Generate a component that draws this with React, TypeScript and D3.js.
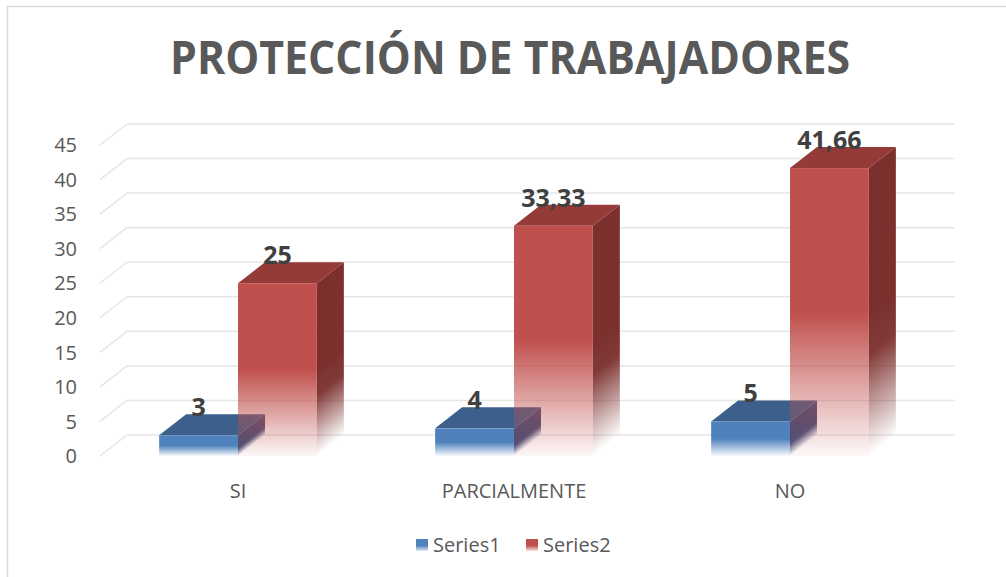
import React from "react";
import * as d3 from "d3";

const categories = ["SI", "PARCIALMENTE", "NO"];
const series1 = [3, 4, 5];
const series2 = [25, 33.33, 41.66];
const seriesNames = ["Series1", "Series2"];
const yTicks = [0, 5, 10, 15, 20, 25, 30, 35, 40, 45];
const title = "PROTECCIÓN DE TRABAJADORES";

const W = 1006;
const H = 577;
const DX = 27;
const DY = -21;

const palette = [
  { front: "#4f81bd", top: "#3c5f8c", side: "#3f4d78" },
  { front: "#c0504d", top: "#943b38", side: "#7b302e" },
];

const fmt = (v: number) => String(v).replace(".", ",");

export default function App() {
  const x = d3.scaleBand<string>().domain(categories).range([100, 928]).padding(0);
  const y = d3.scaleLinear().domain([0, 45]).range([456, 145]);
  const x0 = 100;
  const x1 = 928;
  const bw = x.bandwidth() / 3.5;
  const seriesData = [series1, series2];
  const y0 = y(0);

  const bars: React.ReactNode[] = [];
  const defs: React.ReactNode[] = [];
  const labels: React.ReactNode[] = [];

  categories.forEach((cat, ci) => {
    const c = (x(cat) as number) + x.bandwidth() / 2;
    seriesData.forEach((data, si) => {
      const v = data[ci];
      const left = c - bw + si * bw;
      const right = left + bw;
      const yt = y(v);
      const col = palette[si];
      const gid = `gf-${si}-${ci}`;
      const sid = `gs-${si}-${ci}`;
      const ymid = yt + (y0 - yt) * 0.5;
      // side gradient: iso-lines parallel to the depth direction (DX, DY)
      const len2 = DX * DX + DY * DY;
      const t = ((y0 - ymid) * DX) / len2;
      const gx1 = right;
      const gy1 = ymid;
      const gx2 = right + t * -DY;
      const gy2 = ymid + t * DX;
      defs.push(
        <linearGradient key={gid} id={gid} x1="0" y1={yt} x2="0" y2={y0} gradientUnits="userSpaceOnUse">
          <stop offset="0" stopColor={col.front} stopOpacity={1} />
          <stop offset="0.5" stopColor={col.front} stopOpacity={1} />
          <stop offset="1" stopColor={col.front} stopOpacity={0.04} />
        </linearGradient>
      );
      defs.push(
        <linearGradient key={sid} id={sid} x1={gx1} y1={gy1} x2={gx2} y2={gy2} gradientUnits="userSpaceOnUse">
          <stop offset="0" stopColor={col.side} stopOpacity={1} />
          <stop offset="0.3" stopColor={col.side} stopOpacity={0.95} />
          <stop offset="1" stopColor={col.side} stopOpacity={0.0} />
        </linearGradient>
      );
      const side = [
        [right, yt],
        [right + DX, yt + DY],
        [right + DX, y0 + DY],
        [right, y0],
      ];
      const topF = [
        [left, yt],
        [right, yt],
        [right + DX, yt + DY],
        [left + DX, yt + DY],
      ];
      const pts = (p: number[][]) => p.map((q) => q.join(",")).join(" ");
      bars.push(
        <g key={`b-${si}-${ci}`}>
          <polygon points={pts(side)} fill={`url(#${sid})`} />
          <polygon points={pts(topF)} fill={col.top} />
          <rect x={left} y={yt} width={bw} height={y0 - yt} fill={`url(#${gid})`} />
        </g>
      );
      labels.push(
        <text
          key={`l-${si}-${ci}`}
          x={left + bw / 2}
          y={yt + DY + 2}
          textAnchor="middle"
          fontFamily="'Open Sans', sans-serif"
          fontWeight={700}
          fontSize={25}
          fill="#404040"
        >
          {fmt(v)}
        </text>
      );
    });
  });

  return (
    <svg width={W} height={H} style={{ position: "absolute", left: 0, top: 0, background: "#fff" }}>
      <defs>
        {defs}
        <linearGradient id="leg0" x1="0" y1="0" x2="0" y2="1">
          <stop offset="0" stopColor={palette[0].front} />
          <stop offset="0.55" stopColor={palette[0].front} />
          <stop offset="1" stopColor={palette[0].front} stopOpacity={0.15} />
        </linearGradient>
        <linearGradient id="leg1" x1="0" y1="0" x2="0" y2="1">
          <stop offset="0" stopColor={palette[1].front} />
          <stop offset="0.55" stopColor={palette[1].front} />
          <stop offset="1" stopColor={palette[1].front} stopOpacity={0.15} />
        </linearGradient>
      </defs>
      <rect x={7.5} y={6.5} width={1010} height={600} fill="#fff" stroke="#d9d9d9" strokeWidth={1.5} />
      <text
        x={510}
        y={74}
        textAnchor="middle"
        fontFamily="'Open Sans', sans-serif"
        fontWeight={700}
        fontSize={46}
        fill="#595959"
        textLength={680}
        lengthAdjust="spacingAndGlyphs"
      >
        {title}
      </text>
      {/* gridlines */}
      <g stroke="#e6e6e6" strokeWidth={1.5} fill="none">
        {yTicks.map((t) => (
          <g key={`g-${t}`}>
            <line x1={x0} y1={y(t)} x2={x0 + DX} y2={y(t) + DY} />
            <line x1={x0 + DX} y1={y(t) + DY} x2={x1 + DX} y2={y(t) + DY} />
          </g>
        ))}
      </g>
      {yTicks.map((t) => (
        <text
          key={`yt-${t}`}
          x={77}
          y={y(t)}
          dy="0.36em"
          textAnchor="end"
          fontFamily="'Open Sans', sans-serif"
          fontSize={20}
          fill="#595959"
        >
          {t}
        </text>
      ))}
      {bars}
      {labels}
      {categories.map((cat) => (
        <text
          key={`c-${cat}`}
          x={(x(cat) as number) + x.bandwidth() / 2}
          y={498}
          textAnchor="middle"
          fontFamily="'Open Sans', sans-serif"
          fontSize={20}
          fill="#595959"
        >
          {cat}
        </text>
      ))}
      {/* legend */}
      {seriesNames.map((name, i) => {
        const lx = i === 0 ? 416 : 526;
        return (
          <g key={`leg-${name}`}>
            <rect x={lx} y={539} width={12} height={12} fill={`url(#leg${i})`} />
            <text
              x={lx + 17}
              y={552}
              fontFamily="'Open Sans', sans-serif"
              fontSize={20}
              fill="#595959"
            >
              {name}
            </text>
          </g>
        );
      })}
    </svg>
  );
}
